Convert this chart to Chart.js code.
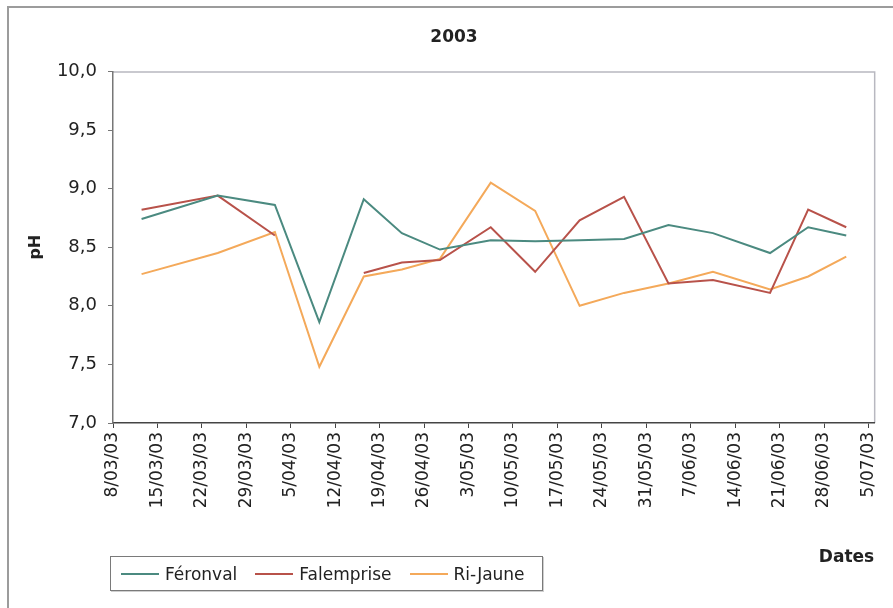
<!DOCTYPE html>
<html>
<head>
<meta charset="utf-8">
<script src="https://cdn.jsdelivr.net/npm/chart.js@4.4.1/dist/chart.umd.min.js"></script>
<style>
body{margin:0;background:#fff;}
#wrap{position:relative;width:893px;height:608px;}
#legende{position:absolute;left:110px;top:556px;width:433px;height:35px;border:1px solid #7a7a7a;box-shadow:1px 1px 0 #cfcfcf;display:flex;align-items:center;font:17px "DejaVu Sans";color:#222;box-sizing:border-box;padding-left:10px;white-space:nowrap;}
.item{display:flex;align-items:center;margin-right:18px;flex-shrink:0;}
.trait{width:38px;height:2px;margin-right:6px;}
</style>
</head>
<body>
<div id="wrap"><canvas id="graphique"></canvas><div id="legende"></div></div>
<script>
// dates de prélèvement (2003)
const dates = ['12/03/03','24/03/03','2/04/03','9/04/03','16/04/03','22/04/03','28/04/03','6/05/03',
               '13/05/03','20/05/03','27/05/03','3/06/03','10/06/03','19/06/03','25/06/03','1/07/03'];

const feronval   = [8.74, 8.94, 8.86, 7.86, 8.91, 8.62, 8.48, 8.56, 8.55, 8.56, 8.57, 8.69, 8.62, 8.45, 8.67, 8.60];
const falemprise = [8.82, 8.94, 8.60, null, 8.28, 8.37, 8.39, 8.67, 8.29, 8.73, 8.93, 8.19, 8.22, 8.11, 8.82, 8.67];
const riJaune    = [8.27, 8.45, 8.63, 7.48, 8.25, 8.31, 8.40, 9.05, 8.81, 8.00, 8.11, 8.19, 8.29, 8.14, 8.25, 8.42];

const tickLabels = ['8/03/03','15/03/03','22/03/03','29/03/03','5/04/03','12/04/03','19/04/03','26/04/03','3/05/03',
                    '10/05/03','17/05/03','24/05/03','31/05/03','7/06/03','14/06/03','21/06/03','28/06/03','5/07/03'];
const yLabels = ['7,0','7,5','8,0','8,5','9,0','9,5','10,0'];

// jours depuis le 8/03/03 (point au milieu du jour, comme Excel)
function jour(d){
    const p = d.split('/');
    return (Date.UTC(2000 + +p[2], p[1] - 1, +p[0]) - Date.UTC(2003, 2, 8)) / 86400000 + 0.5;
}
function serie(vals){
    return vals.map((v, i) => ({x: jour(dates[i]), y: v}));
}

const cadre = {
    id: 'cadre',
    beforeDraw(chart){
        const {ctx, chartArea: a} = chart;
        ctx.save();
        ctx.strokeStyle = '#9c9c9c';
        ctx.lineWidth = 2;
        ctx.strokeRect(8, 7, 900, 700);
        ctx.strokeStyle = '#b8b8c0';
        ctx.lineWidth = 1.5;
        ctx.beginPath();
        ctx.moveTo(a.left, a.top + 0.5);
        ctx.lineTo(a.right + 0.5, a.top + 0.5);
        ctx.lineTo(a.right + 0.5, a.bottom);
        ctx.stroke();
        ctx.restore();
    }
};

const police = 'DejaVu Sans';

const graphique = new Chart(document.getElementById('graphique'), {
    type: 'line',
    data: {
        datasets: [
            {label: 'Féronval', data: serie(feronval), borderColor: '#4b8a80'},
            {label: 'Falemprise', data: serie(falemprise), borderColor: '#b8524a'},
            {label: 'Ri-Jaune', data: serie(riJaune), borderColor: '#f4a95a'}
        ]
    },
    options: {
        responsive: true,
        maintainAspectRatio: false,
        animation: false,
        layout: {padding: {left: 33, right: 18, top: 0, bottom: 0}},
        elements: {
            line: {borderWidth: 2, tension: 0},
            point: {radius: 0, hoverRadius: 0}
        },
        plugins: {
            legend: {display: false},
            tooltip: {enabled: false},
            title: {
                display: true,
                text: '2003',
                color: '#222',
                font: {family: police, size: 17, weight: 'bold'},
                padding: {top: 27, bottom: 24}
            }
        },
        scales: {
            x: {
                type: 'linear',
                min: 0,
                max: 119.9,
                afterBuildTicks: s => { s.ticks = tickLabels.map((t, i) => ({value: i * 7})); },
                afterFit: s => { s.height = 185; },
                ticks: {
                    autoSkip: false,
                    minRotation: 90,
                    maxRotation: 90,
                    padding: 4,
                    color: '#222',
                    font: {family: police, size: 17},
                    callback: (v, i) => tickLabels[i]
                },
                grid: {drawOnChartArea: false, tickLength: 5, color: '#444'},
                border: {color: '#444', width: 1.5},
                title: {
                    display: true,
                    text: 'Dates',
                    align: 'end',
                    color: '#222',
                    font: {family: police, size: 17, weight: 'bold'},
                    padding: {top: 0, bottom: 40}
                }
            },
            y: {
                min: 7,
                max: 10,
                afterFit: s => { s.width = 80; },
                ticks: {
                    stepSize: 0.5,
                    padding: 11,
                    color: '#222',
                    font: {family: police, size: 18},
                    callback: (v, i) => yLabels[i]
                },
                grid: {drawOnChartArea: false, tickLength: 5, color: '#777'},
                border: {color: '#777', width: 1.5},
                title: {
                    display: true,
                    text: 'pH',
                    color: '#222',
                    font: {family: police, size: 16, weight: 'bold'},
                    padding: {top: -7, bottom: 0}
                }
            }
        }
    },
    plugins: [cadre]
});

// légende en bas à gauche, dans un cadre
const legende = document.getElementById('legende');
graphique.data.datasets.forEach(ds => {
    const item = document.createElement('div');
    item.className = 'item';
    item.innerHTML = '<span class="trait" style="background:' + ds.borderColor + '"></span><span>' + ds.label + '</span>';
    legende.appendChild(item);
});
</script>
</body>
</html>
